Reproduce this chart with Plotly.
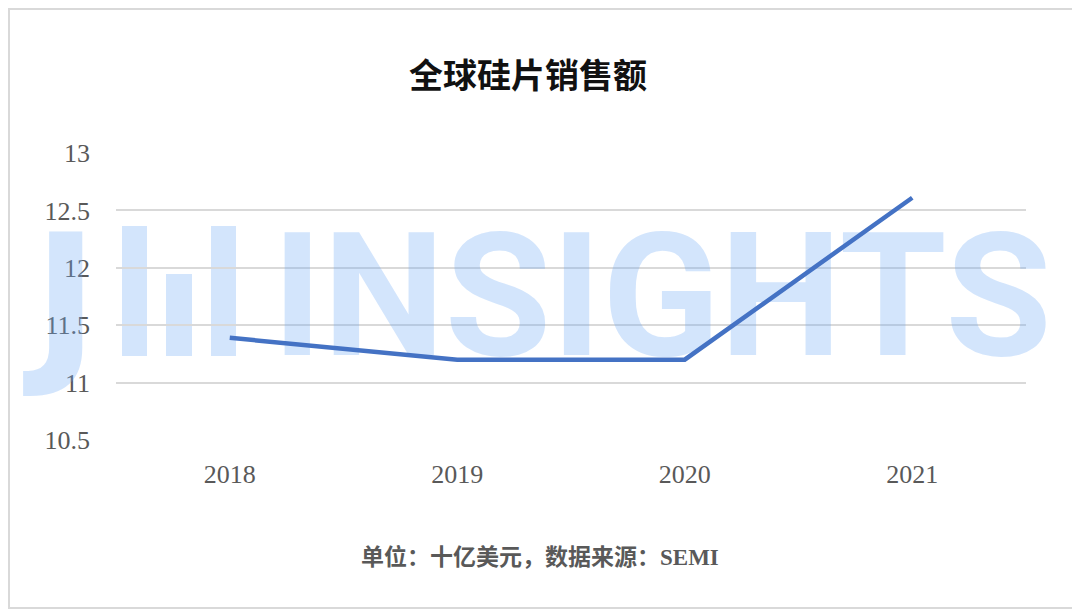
"""Global silicon wafer sales line chart (recreated in Plotly)."""

import plotly.graph_objects as go

# Data
years = [2018, 2019, 2020, 2021]
sales = [11.39, 11.2, 11.2, 12.61]  # billion USD
y_ticks = [10.5, 11, 11.5, 12, 12.5, 13]

title_text = "全球硅片销售额"
note_text = "单位：十亿美元，数据来源：SEMI"
watermark_word = "INSIGHTS"
watermark_letter = "J"

# page body has an 8px margin, so the figure is shifted by that much
OFF = 8
W, H = 1072, 601
L, R, T, B = 108, 54, 145, 169
PW, PH = W - L - R, H - T - B


def px(x):
    # reference-image x pixel -> paper coordinate
    return (x - OFF - L) / PW


def py(y):
    return 1 - (y - OFF - T) / PH


WM_COLOR = "rgba(110,170,245,0.3)"
SERIF = "Liberation Serif, Noto Sans CJK SC, serif"

fig = go.Figure()

# watermark text drawn first so the line sits on top
fig.add_trace(go.Scatter(
    x=[2019.90], y=[11.62], mode="text", text=[watermark_word],
    textfont=dict(family="Roboto", size=173, color=WM_COLOR, weight="bold"),
    textposition="middle center", hoverinfo="skip", showlegend=False,
    cliponaxis=False,
))

fig.add_trace(go.Scatter(
    x=years, y=sales, mode="lines",
    line=dict(color="#4472C4", width=4.5),
    showlegend=False,
))

shapes = []
# watermark bar icon
for x0, x1, top in [(122, 147, 226), (166, 192, 274), (211, 236, 226)]:
    shapes.append(dict(
        type="rect", xref="paper", yref="paper",
        x0=px(x0), x1=px(x1), y0=py(356), y1=py(top),
        fillcolor=WM_COLOR, line=dict(width=0), layer="below",
    ))
# outer border
shapes.append(dict(
    type="rect", xref="paper", yref="paper",
    x0=(1 - L) / PW, x1=(W - 1 - L) / PW,
    y0=1 - (H - 1 - T) / PH, y1=1 - (1 - T) / PH,
    line=dict(color="#D9D9D9", width=2), fillcolor="rgba(0,0,0,0)",
))

fig.update_layout(
    width=W, height=H,
    margin=dict(l=L, r=R, t=T, b=B),
    paper_bgcolor="white", plot_bgcolor="white",
    shapes=shapes,
    annotations=[
        dict(text=f"<b>{title_text}</b>", xref="paper", yref="paper",
             x=px(528), y=py(73), showarrow=False,
             xanchor="center", yanchor="middle",
             font=dict(family="Noto Sans CJK SC", size=34, color="#111111")),
        dict(text=f"<b>{note_text}</b>", xref="paper", yref="paper",
             x=px(540), y=py(557), showarrow=False,
             xanchor="center", yanchor="middle",
             font=dict(family=SERIF, size=23, color="#595959")),
        dict(text=f"<b>{watermark_letter}</b>", xref="paper", yref="paper",
             x=px(100), y=py(300), showarrow=False,
             xanchor="right", yanchor="middle",
             font=dict(family="DejaVu Sans", size=176, color=WM_COLOR)),
    ],
)

fig.update_xaxes(
    range=[2017.5, 2021.5], tickvals=years, ticktext=[str(y) for y in years],
    showgrid=False, zeroline=False, showline=False, ticks="",
    tickfont=dict(family=SERIF, size=26, color="#595959"),
    ticklabelstandoff=16,
)
fig.update_yaxes(
    range=[10.5, 13], tickvals=y_ticks,
    showgrid=True, gridcolor="#D9D9D9", gridwidth=1.5,
    zeroline=False, showline=False, ticks="",
    tickfont=dict(family=SERIF, size=26, color="#595959"),
    ticklabelstandoff=25,
)

fig.write_html("out.html")
